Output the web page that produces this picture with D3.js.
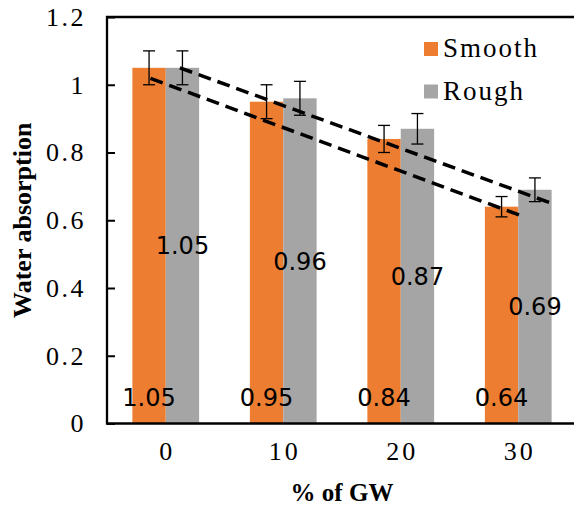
<!DOCTYPE html>
<html>
<head>
<meta charset="utf-8">
<script src="https://cdn.jsdelivr.net/npm/d3@7"></script>
<style>
  body { margin: 0; background: #fff; }
  svg { display: block; }
</style>
</head>
<body>
<svg id="chart" width="574" height="508"></svg>
<script>
const categories = ["0", "10", "20", "30"];
const seriesNames = ["Smooth", "Rough"];
const smoothValues = [1.05, 0.95, 0.84, 0.64];
const roughValues = [1.05, 0.96, 0.87, 0.69];
const smoothErrors = [0.05, 0.05, 0.04, 0.03];
const roughErrors = [0.05, 0.05, 0.045, 0.035];
const yTicks = [0, 0.2, 0.4, 0.6, 0.8, 1, 1.2];
// dashed lines drawn over the chart: [category position, value]
const lowerDash = [[-0.13, 1.019], [3.05, 0.61]];
const upperDash = [[0.12, 1.05], [3.306, 0.647]];

const colors = { Smooth: "#ED7D31", Rough: "#A5A5A5" };
const serif = "Liberation Serif";

const svg = d3.select("#chart");
const margin = { top: 17, left: 107 };
const innerWidth = 470;
const innerHeight = 406.5;

const g = svg.append("g").attr("transform", `translate(${margin.left},${margin.top})`);

const x0 = d3.scaleBand()
  .domain(categories)
  .range([0, innerWidth])
  .paddingInner(0.432)
  .paddingOuter(0.216);

const x1 = d3.scaleBand()
  .domain(seriesNames)
  .range([0, x0.bandwidth()]);

const y = d3.scaleLinear().domain([0, 1.2]).range([innerHeight, 0]);

// category index -> pixel (center of category)
const xi = d3.scaleLinear()
  .domain([0, 1])
  .range([x0(categories[0]) + x0.bandwidth() / 2, x0(categories[1]) + x0.bandwidth() / 2]);

const rows = categories.map((c, i) => ({
  cat: c,
  bars: [
    { name: "Smooth", value: smoothValues[i], err: smoothErrors[i] },
    { name: "Rough", value: roughValues[i], err: roughErrors[i] }
  ]
}));

// bars
const groups = g.selectAll("g.bar-group")
  .data(rows)
  .join("g")
  .attr("class", "bar-group")
  .attr("transform", d => `translate(${x0(d.cat)},0)`);

groups.selectAll("rect")
  .data(d => d.bars)
  .join("rect")
  .attr("x", d => x1(d.name))
  .attr("y", d => y(d.value))
  .attr("width", x1.bandwidth())
  .attr("height", d => innerHeight - y(d.value))
  .attr("fill", d => colors[d.name]);

// error bars
const eb = groups.selectAll("g.err")
  .data(d => d.bars)
  .join("g")
  .attr("class", "err")
  .attr("transform", d => `translate(${x1(d.name) + x1.bandwidth() / 2},0)`);
eb.append("line")
  .attr("y1", d => y(d.value + d.err)).attr("y2", d => y(d.value - d.err))
  .attr("stroke", "#000").attr("stroke-width", 1.3);
eb.append("line")
  .attr("x1", -6).attr("x2", 6)
  .attr("y1", d => y(d.value + d.err)).attr("y2", d => y(d.value + d.err))
  .attr("stroke", "#000").attr("stroke-width", 1.3);
eb.append("line")
  .attr("x1", -6).attr("x2", 6)
  .attr("y1", d => y(d.value - d.err)).attr("y2", d => y(d.value - d.err))
  .attr("stroke", "#000").attr("stroke-width", 1.3);

// dashed lines
const line = d3.line().x(d => xi(d[0])).y(d => y(d[1]));
[lowerDash, upperDash].forEach(pts => {
  g.append("path")
    .attr("d", line(pts))
    .attr("fill", "none")
    .attr("stroke", "#000")
    .attr("stroke-width", 3.5)
    .attr("stroke-dasharray", "13,7");
});

// data labels: smooth at inside base, rough centered
groups.selectAll("text.lbl")
  .data(d => d.bars)
  .join("text")
  .attr("class", "lbl")
  .attr("x", d => x1(d.name) + x1.bandwidth() / 2)
  .attr("y", d => d.name === "Smooth" ? innerHeight - 26.5 : y(d.value / 2))
  .attr("dy", "0.36em")
  .attr("text-anchor", "middle")
  .style("font-family", "DejaVu Sans")
  .style("font-size", "24px")
  .attr("fill", "#000")
  .text(d => d.value.toFixed(2));

// y axis
const yAxis = g.append("g")
  .call(d3.axisLeft(y).tickValues(yTicks).tickSize(-8).tickPadding(21).tickFormat(d3.format("")));
yAxis.select(".domain").remove();
yAxis.selectAll("line").attr("stroke", "#000").attr("stroke-width", 2);
yAxis.selectAll("text")
  .style("font-family", serif)
  .style("font-size", "26px")
  .style("letter-spacing", "2.5px")
  .attr("fill", "#000");

// x axis
const xAxis = g.append("g")
  .attr("transform", `translate(0,${innerHeight})`)
  .call(d3.axisBottom(x0).tickSize(0).tickPadding(18));
xAxis.select(".domain").remove();
xAxis.selectAll("text")
  .attr("dx", "1.5px")
  .style("font-family", serif)
  .style("font-size", "26px")
  .style("letter-spacing", "3px")
  .attr("fill", "#000");

// plot frame (left, top, bottom)
g.append("path")
  .attr("d", `M${innerWidth},0H0V${innerHeight}H${innerWidth}`)
  .attr("fill", "none")
  .attr("stroke", "#000")
  .attr("stroke-width", 2.3);

// axis titles
svg.append("text")
  .attr("transform", `translate(31,${margin.top + innerHeight / 2}) rotate(-90)`)
  .attr("text-anchor", "middle")
  .style("font-family", "Liberation Serif")
  .style("font-weight", "bold")
  .style("font-size", "26px")
  .text("Water absorption");

svg.append("text")
  .attr("x", margin.left + innerWidth / 2)
  .attr("y", 501)
  .attr("text-anchor", "middle")
  .style("font-family", "Liberation Serif")
  .style("font-weight", "bold")
  .style("font-size", "25px")
  .text("% of GW");

// legend
const legend = svg.append("g").attr("transform", "translate(424,42)");
seriesNames.forEach((name, i) => {
  const row = legend.append("g").attr("transform", `translate(0,${i * 42.5})`);
  row.append("rect").attr("width", 14).attr("height", 14).attr("fill", colors[name]);
  row.append("text")
    .attr("x", 19).attr("y", 15)
    .style("font-family", serif)
    .style("font-size", "27px")
    .style("letter-spacing", "2px")
    .attr("fill", "#000")
    .text(name);
});
</script>
</body>
</html>
